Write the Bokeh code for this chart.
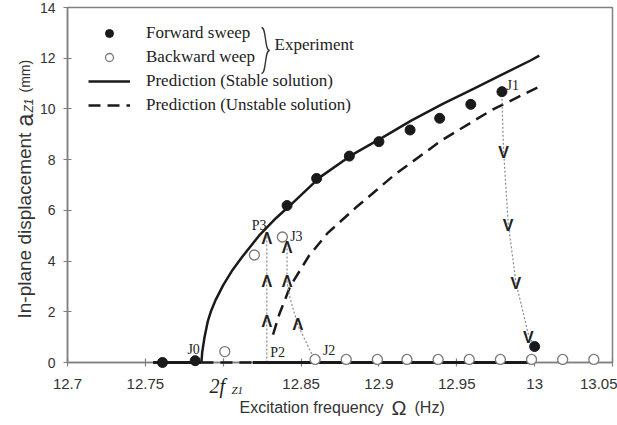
import math
from bokeh.plotting import figure
from bokeh.models import Range1d, FixedTicker, Legend, LegendItem
from bokeh.embed import file_html
from bokeh.resources import INLINE
from bokeh.core.properties import value

# ---------------- data ----------------
fwd_freq = [12.761, 12.782, 12.841, 12.860, 12.881, 12.900, 12.920, 12.939, 12.959, 12.979, 13.000]
fwd_amp = [0.0, 0.07, 6.19, 7.26, 8.14, 8.71, 9.17, 9.63, 10.18, 10.68, 0.63]

bwd_freq = [12.801, 12.820, 12.838, 12.859, 12.879, 12.899, 12.918, 12.938, 12.958, 12.978, 12.998, 13.018, 13.038]
bwd_amp = [0.43, 4.24, 4.95, 0.12, 0.12, 0.12, 0.12, 0.12, 0.12, 0.12, 0.12, 0.12, 0.12]

stable_freq = [12.786, 12.7865, 12.788, 12.790, 12.792, 12.795, 12.800, 12.806, 12.812, 12.823,
               12.834, 12.843, 12.862, 12.883, 12.903, 12.921, 12.941, 12.961, 12.979, 12.997, 13.003]
stable_amp = [0.0, 0.4, 1.0, 1.6, 2.0, 2.45, 3.05, 3.65, 4.15, 5.0,
              5.7, 6.2, 7.3, 8.2, 8.9, 9.55, 10.2, 10.8, 11.35, 11.9, 12.1]

unstable_freq = [12.832, 12.836, 12.843, 12.855, 12.867, 12.885, 12.910, 12.940, 12.972, 13.002]
unstable_amp = [1.1, 1.9, 3.0, 4.2, 5.1, 6.1, 7.4, 8.75, 9.94, 10.85]

trivial_stable_a_freq = [12.755, 12.786]
trivial_stable_b_freq = [12.819, 13.000]
trivial_unstable_freq = [12.786, 12.819]
trivial_amp = [0.0, 0.0]

jump_down_freq = [12.979, 12.980, 12.983, 12.988, 12.996, 12.999]
jump_down_amp = [10.4, 8.4, 5.5, 3.15, 1.1, 0.75]
jump_up_a_freq = [12.828, 12.828]
jump_up_a_amp = [0.0, 5.0]
jump_up_b_freq = [12.858, 12.848, 12.843, 12.841, 12.841]
jump_up_b_amp = [0.2, 1.46, 2.52, 3.15, 4.6]

arrow_down_freq = [12.980, 12.983, 12.988, 12.996]
arrow_down_amp = [8.3, 5.4, 3.1, 1.0]
arrow_up_freq = [12.828, 12.828, 12.828, 12.848, 12.841, 12.841]
arrow_up_amp = [1.6, 3.2, 4.9, 1.5, 3.2, 4.55]

point_names = ["J0", "P3", "J3", "P2", "J2", "J1"]
point_name_freq = [12.781, 12.823, 12.847, 12.835, 12.868, 12.986]
point_name_amp = [0.5, 5.4, 4.95, 0.4, 0.47, 10.92]

x_tick_values = [12.7, 12.75, 12.8, 12.85, 12.9, 12.95, 13.0, 13.05]
x_tick_labels = ["12.7", "12.75", "", "12.85", "12.9", "12.95", "13", "13.05"]
y_tick_values = [0, 2, 4, 6, 8, 10, 12, 14]

# ---------------- layout helpers ----------------
X0, X1, Y0, Y1 = 12.7, 13.05, 0.0, 14.0
FL, FR, FT, FB = 67, 612, 7, 362


def px_x(px):
    return X0 + (px - FL) / (FR - FL) * (X1 - X0)


def px_y(py):
    return Y0 + (FB - py) / (FB - FT) * (Y1 - Y0)


p = figure(width=617, height=425, output_backend="svg", toolbar_location=None,
           x_range=Range1d(X0, X1), y_range=Range1d(Y0, Y1),
           min_border_left=FL, min_border_right=617 - FR,
           min_border_top=FT, min_border_bottom=425 - FB)
p.background_fill_color = "white"
p.border_fill_color = "white"
p.xgrid.visible = False
p.ygrid.visible = False
p.outline_line_color = "#808080"
p.outline_line_width = 1.5

AX = "#808080"
for ax in (p.xaxis[0], p.yaxis[0]):
    ax.axis_line_color = AX
    ax.axis_line_width = 1.5
    ax.major_tick_line_color = AX
    ax.major_tick_line_width = 1.2
    ax.major_tick_in = 4
    ax.major_tick_out = 4
    ax.minor_tick_line_color = None
    ax.major_label_text_font = "Liberation Sans"
    ax.major_label_text_color = "#333333"

p.xaxis.ticker = FixedTicker(ticks=x_tick_values)
p.xaxis.major_label_overrides = {v: s for v, s in zip(x_tick_values, x_tick_labels)}
p.xaxis.major_label_text_font_size = "15px"
p.xaxis.major_label_standoff = 12
p.yaxis.ticker = FixedTicker(ticks=y_tick_values)
p.yaxis.major_label_text_font_size = "14px"
p.yaxis.major_label_standoff = 8

INK = "#1a1a1a"
DASH = "12 7"
SANS = "Liberation Sans"
SERIF = "Liberation Serif"


def add_text(xpx, ypx, s, font, size, style="normal", angle=0.0, align="left",
             baseline="alphabetic", color="#333333"):
    r = p.text([px_x(xpx)], [px_y(ypx)], text=[s], text_font=value(font),
               text_font_size=size, text_font_style=style, angle=angle,
               text_align=align, text_baseline=baseline, text_color=color)
    r.level = "overlay"
    return r


# trivial (zero amplitude) solutions
for xs in (trivial_stable_a_freq, trivial_stable_b_freq):
    r = p.line(xs, trivial_amp, line_color=INK, line_width=3)
    r.level = "overlay"
r = p.line(trivial_unstable_freq, trivial_amp, line_color=INK, line_width=2.5, line_dash=DASH)
r.level = "overlay"

# predictions
r_stable = p.line(stable_freq, stable_amp, line_color=INK, line_width=2.5)
r_unstable = p.line(unstable_freq, unstable_amp, line_color=INK, line_width=2.5, line_dash=DASH)

# jump paths (dotted)
for xs, ys in ((jump_down_freq, jump_down_amp), (jump_up_a_freq, jump_up_a_amp),
               (jump_up_b_freq, jump_up_b_amp)):
    p.line(xs, ys, line_color="#8a8a8a", line_width=1.2, line_dash="2 2")

p.text(arrow_down_freq, arrow_down_amp, text=["V"] * len(arrow_down_freq),
       text_font=value(SANS), text_font_style="bold", text_font_size="16px",
       text_align="center", text_baseline="middle", text_color="#222222")
p.text(arrow_up_freq, arrow_up_amp, text=["\u039b"] * len(arrow_up_freq),
       text_font=value(SANS), text_font_style="bold", text_font_size="16px",
       text_align="center", text_baseline="middle", text_color="#222222")

# experiment
r_bwd = p.scatter(bwd_freq, bwd_amp, marker="circle", size=10, fill_color="white",
                  line_color="#7a7a7a", line_width=1.3)
r_bwd.level = "overlay"
r_fwd = p.scatter(fwd_freq, fwd_amp, marker="circle", size=10, fill_color=INK, line_color=INK)
r_fwd.level = "overlay"

p.text(point_name_freq, point_name_amp, text=point_names,
       text_font=value(SERIF), text_font_size="14px",
       text_align="center", text_baseline="middle", text_color="#222222")

legend = Legend(items=[LegendItem(label="Forward sweep", renderers=[r_fwd]),
                       LegendItem(label="Backward weep", renderers=[r_bwd]),
                       LegendItem(label="Prediction (Stable solution)", renderers=[r_stable]),
                       LegendItem(label="Prediction (Unstable solution)", renderers=[r_unstable])],
                location=(21, 247), label_text_font=SERIF, label_text_font_size="17px",
                label_text_color="#222222", glyph_width=42, glyph_height=20, label_height=20,
                spacing=4, padding=10, label_standoff=16, background_fill_alpha=0,
                border_line_color=None)
p.add_layout(legend)

# brace grouping the two experiment entries
brace_top, brace_mid, brace_bot = 27, 50, 73
bx_end, bx_spine, bx_tip = 261, 265, 269
p.bezier(x0=[px_x(bx_end), px_x(bx_tip)], y0=[px_y(brace_top), px_y(brace_mid)],
         x1=[px_x(bx_tip), px_x(bx_end)], y1=[px_y(brace_mid), px_y(brace_bot)],
         cx0=[px_x(bx_spine + 1), px_x(bx_spine - 1)], cy0=[px_y(brace_top), px_y(brace_mid)],
         cx1=[px_x(bx_spine - 1), px_x(bx_spine + 1)], cy1=[px_y(brace_mid), px_y(brace_bot)],
         line_color="#333333", line_width=1.4)
add_text(274, 44, "Experiment", SERIF, "17px", baseline="middle", color="#222222")

# 2f_Z1 at the 12.8 tick
add_text(209, 385, "2f", SERIF, "20px", style="italic", color="#222222")
add_text(231, 389, "Z1", SERIF, "11px", style="italic", color="#222222")

# x axis title
add_text(239, 407, "Excitation frequency", SANS, "16px")
add_text(391, 407, "\u03a9", SANS, "20px")
add_text(414, 407, "(Hz)", SANS, "16px")

# y axis title (rotated pieces)
ang = math.pi / 2
BX = 24
add_text(BX, 318, "In-plane displacement", SANS, "19px", angle=ang)
add_text(BX, 126, "a", SANS, "23px", angle=ang)
add_text(BX + 4, 112, "Z1", SANS, "12px", style="italic", angle=ang)
add_text(BX, 92, "(mm)", SANS, "14px", angle=ang)

open("out.html", "w").write(file_html(p, INLINE))
